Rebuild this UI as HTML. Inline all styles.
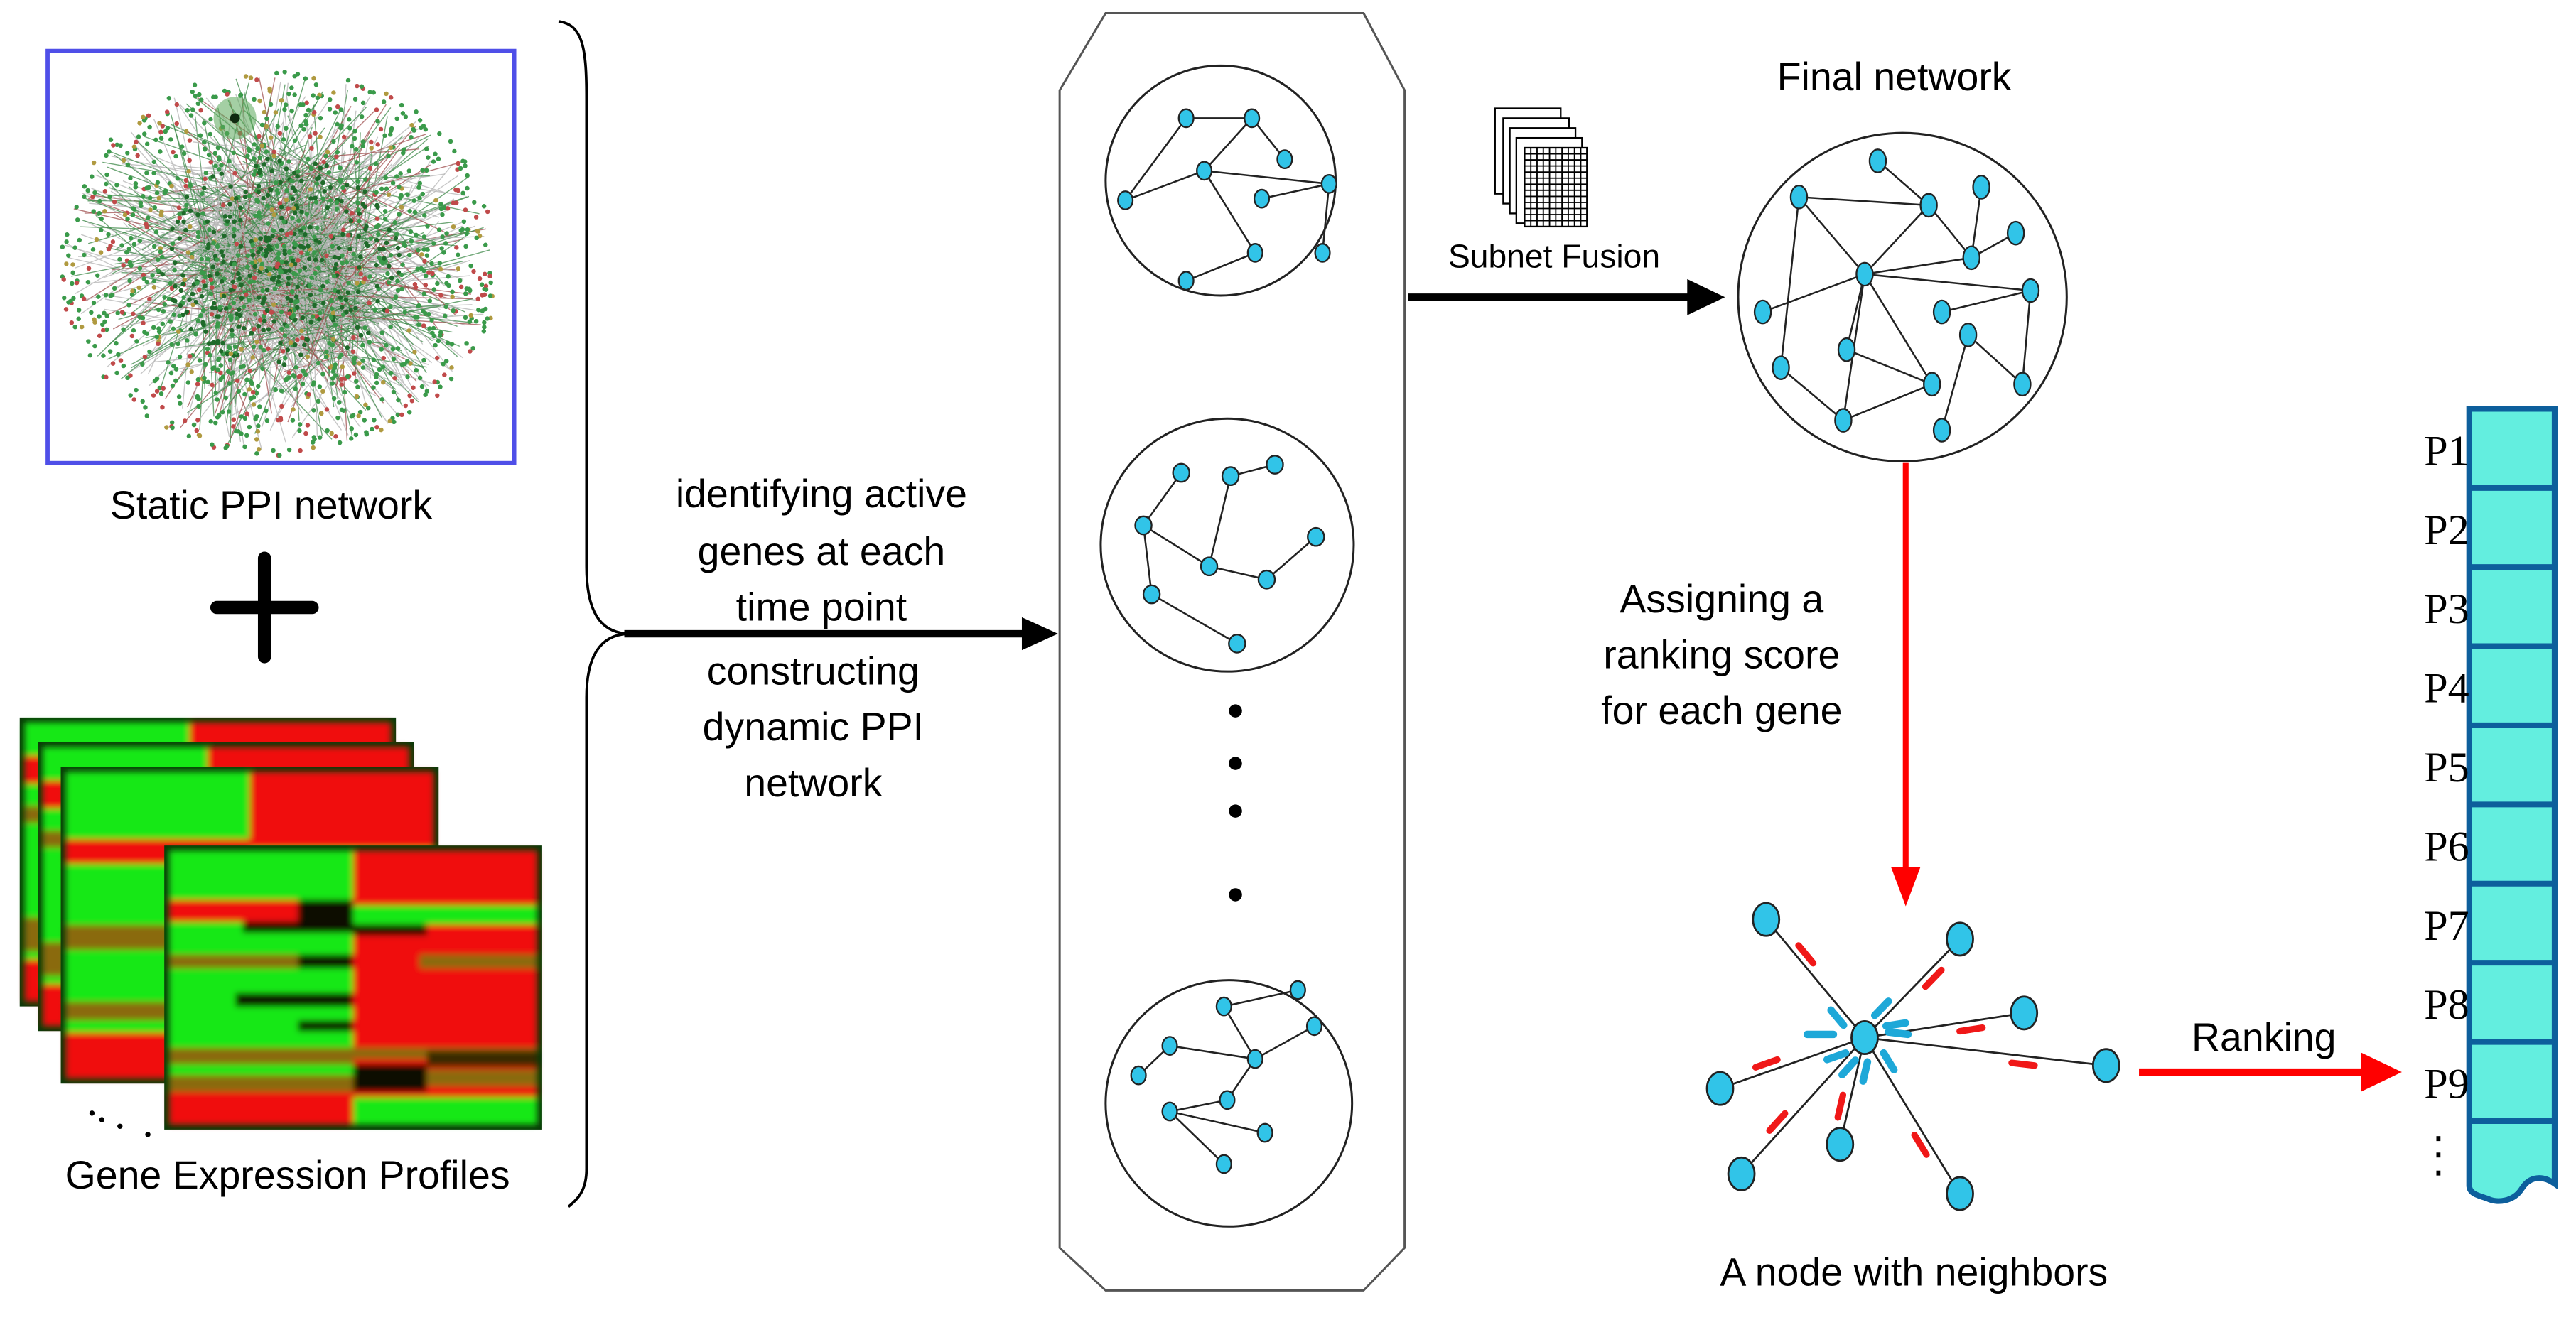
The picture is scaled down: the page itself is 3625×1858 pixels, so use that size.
<!DOCTYPE html>
<html><head><meta charset="utf-8"><style>
html,body{margin:0;padding:0;background:#fff;}
svg{display:block;}
text{font-family:"Liberation Sans",Arial,sans-serif;fill:#000;}
text.serif{font-family:"Liberation Serif","Times New Roman",serif;}
</style></head><body>
<svg id="s" width="3625" height="1858" viewBox="0 0 1568 804" preserveAspectRatio="none" xmlns="http://www.w3.org/2000/svg">
<defs>
<filter id="blur" x="-5%" y="-5%" width="110%" height="110%"><feGaussianBlur stdDeviation="2"/></filter>
<clipPath id="ppiclip"><rect x="30" y="32" width="282" height="249"/></clipPath>
</defs>
<rect width="1568" height="804" fill="#fff"/>

<g id="ppi" clip-path="url(#ppiclip)"></g>
<rect x="29" y="31" width="284" height="251" fill="none" stroke="#4f4fe8" stroke-width="2.5"/>
<text x="165" y="316" font-size="24" text-anchor="middle">Static PPI network</text>
<rect x="128" y="366" width="66" height="8" rx="4" fill="#000"/>
<rect x="157" y="336" width="8" height="68" rx="4" fill="#000"/>

<g id="heat"></g>
<circle cx="56" cy="678" r="1.6" fill="#000"/><circle cx="62" cy="682" r="1.6" fill="#000"/><circle cx="73" cy="686" r="1.6" fill="#000"/><circle cx="90" cy="691" r="1.6" fill="#000"/>
<text x="175" y="724" font-size="24" text-anchor="middle">Gene Expression Profiles</text>

<path d="M340,13 C355,15 357,30 357,60 L357,345 C357,372 365,385 382,386 C365,387 357,400 357,425 L357,712 C357,725 352,730 346,735" fill="none" stroke="#000" stroke-width="1.6"/>

<g font-size="24" text-anchor="middle">
<text x="500" y="309">identifying active</text>
<text x="500" y="344">genes at each</text>
<text x="500" y="378">time point</text>
<text x="495" y="417">constructing</text>
<text x="495" y="451">dynamic PPI</text>
<text x="495" y="485">network</text>
</g>
<line x1="380" y1="386" x2="625" y2="386" stroke="#000" stroke-width="4.5"/>
<path d="M622,376 L644,386 L622,396 z" fill="#000"/>

<path d="M673,8 L830,8 L855,55 L855,760 L830,786 L673,786 L645,760 L645,55 z" fill="#fff" stroke="#555" stroke-width="1.3"/>
<g id="nets"></g>
<circle cx="752" cy="433" r="4" fill="#000"/><circle cx="752" cy="465" r="4" fill="#000"/><circle cx="752" cy="494" r="4" fill="#000"/><circle cx="752" cy="545" r="4" fill="#000"/>

<g stroke="#000" stroke-width="1" fill="#fff">
<rect x="910" y="66" width="40" height="52"/>
<rect x="915" y="72" width="40" height="52"/>
<rect x="919" y="78" width="40" height="52"/>
<rect x="923" y="84" width="40" height="52"/>
</g>
<g id="grid"></g>
<text x="946" y="163" font-size="20" text-anchor="middle">Subnet Fusion</text>
<line x1="857" y1="181" x2="1030" y2="181" stroke="#000" stroke-width="4.5"/>
<path d="M1027,170 L1050,181 L1027,192 z" fill="#000"/>

<text x="1153" y="55" font-size="24" text-anchor="middle">Final network</text>

<line x1="1160" y1="282" x2="1160" y2="532" stroke="#f00" stroke-width="3.5"/>
<path d="M1151,528 L1160,552 L1169,528 z" fill="#f00"/>
<g font-size="24" text-anchor="middle">
<text x="1048" y="373">Assigning a</text>
<text x="1048" y="407">ranking score</text>
<text x="1048" y="441">for each gene</text>
</g>
<text x="1165" y="783" font-size="24" text-anchor="middle">A node with neighbors</text>

<line x1="1302" y1="653" x2="1440" y2="653" stroke="#f00" stroke-width="4.5"/>
<path d="M1437,641 L1462,653 L1437,665 z" fill="#f00"/>
<text x="1378" y="640" font-size="24" text-anchor="middle">Ranking</text>

<path d="M1503,249 L1555,249 L1555,721 C1548,716 1540,716 1535,724 C1530,732 1520,733 1514,730 C1508,728 1503,727 1503,722 z" fill="#63eedf" stroke="#0d5f9c" stroke-width="3.5"/>
<g id="col"></g>
<g font-size="26" text-anchor="end" id="plab"></g>
<g fill="#000"><rect x="1483" y="692" width="2.5" height="3"/><rect x="1483" y="702" width="2.5" height="3"/><rect x="1483" y="713" width="2.5" height="3"/></g>
</svg>
<script>
var NS="http://www.w3.org/2000/svg";
function el(p,t,a){var e=document.createElementNS(NS,t);for(var k in a)e.setAttribute(k,a[k]);p.appendChild(e);return e;}
var seed=12345;function rnd(){seed=(seed*1103515245+12345)%2147483648;return seed/2147483648;}

var ppi=document.getElementById('ppi');
var cx=170,cy=160;
var hubs=[[140,130],[200,140],[170,170],[150,195],[215,185],[130,170],[185,110],[160,150],[195,200]];
for(var i=0;i<900;i++){
 var h=hubs[Math.floor(rnd()*hubs.length)];
 var ang=rnd()*Math.PI*2, r=Math.pow(rnd(),0.6)*125;
 var x=cx+Math.cos(ang)*r*1.05, y=cy+Math.sin(ang)*r*0.92;
 var lc=rnd()<0.55?'#b5b5b5':(rnd()<0.7?'#3f8a4a':'#a05050');
 el(ppi,'line',{x1:h[0]+(rnd()-.5)*40,y1:h[1]+(rnd()-.5)*40,x2:x,y2:y,stroke:lc,'stroke-width':0.6,opacity:0.75});
}
for(var i=0;i<1500;i++){
 var ang=rnd()*Math.PI*2, r=Math.pow(rnd(),0.65)*128;
 var x=cx+Math.cos(ang)*r*1.05, y=cy+Math.sin(ang)*r*0.92;
 var c=rnd()<0.7?'#3a9a4a':(rnd()<0.6?'#c04a4a':'#b09a40');
 if(r<70&&rnd()<0.5)c='#1f6a2a';
 el(ppi,'circle',{cx:x,cy:y,r:1.4,fill:c});
}
el(ppi,'circle',{cx:143,cy:72,r:13,fill:'#5aa85a',opacity:0.55});
el(ppi,'circle',{cx:143,cy:72,r:3,fill:'#102a10'});
el(ppi,'circle',{cx:272,cy:255,r:0,fill:'none'});

var heat=document.getElementById('heat');
var G='#18e818',R='#f01010',DG='#0a3a08',OL='#8a6a10',DK='#101000';
function hm(x,y,w,h,rows){
 var g=el(heat,'g',{});
 el(g,'rect',{x:x,y:y,width:w,height:h,fill:DG});
 var gb=el(g,'g',{filter:'url(#blur)'});
 rows.forEach(function(r){el(gb,'rect',{x:x+3+r[0]*(w-6),y:y+3+r[1]*(h-6),width:r[2]*(w-6),height:r[3]*(h-6),fill:r[4]});});
}
var rowsBack=[[0,0,1,1,G],[0.45,0,0.55,0.3,R],[0,0.12,0.08,0.1,R],[0,0.3,0.1,0.06,OL],[0,0.7,0.3,0.12,OL],[0,0.85,1,0.15,R]];
hm(12,437,229,176,rowsBack);
hm(23,452,229,176,rowsBack);
hm(37,467,230,193,[[0,0,0.5,1,G],[0.5,0,0.5,0.25,R],[0.5,0.25,0.5,0.1,G],[0,0.22,0.5,0.08,R],[0,0.5,0.5,0.08,OL],[0,0.75,0.5,0.06,OL],[0,0.85,0.5,0.15,R],[0.5,0.35,0.5,0.65,R]]);
hm(100,515,230,173,[
 [0,0,0.5,1,G],[0.5,0,0.5,1,R],
 [0,0.18,0.35,0.08,R],[0.35,0.18,0.15,0.08,DK],[0.5,0.2,0.5,0.07,G],
 [0.2,0.26,0.3,0.04,DK],[0.5,0.27,0.2,0.04,DK],
 [0,0.38,0.35,0.05,OL],[0.35,0.38,0.15,0.05,DK],[0.68,0.38,0.32,0.05,OL],
 [0.18,0.52,0.32,0.05,DK],[0.35,0.62,0.15,0.04,DK],
 [0,0.72,0.5,0.06,OL],[0.5,0.72,0.5,0.04,OL],[0.5,0.78,0.2,0.1,DK],[0.7,0.73,0.3,0.06,'#3a2a00'],
 [0,0.82,0.5,0.06,OL],[0.7,0.8,0.3,0.06,OL],
 [0,0.88,0.5,0.12,R],[0.5,0.9,0.5,0.1,G]
]);

var nets=document.getElementById('nets');
var NODE='#31c4e8';
function net(circ,nodes,edges,rx,ry,sw){
 if(circ)el(nets,'circle',{cx:circ[0],cy:circ[1],r:circ[2],fill:'#fff',stroke:'#222','stroke-width':1.3});
 edges.forEach(function(e){var a=nodes[e[0]],b=nodes[e[1]];el(nets,'line',{x1:a[0],y1:a[1],x2:b[0],y2:b[1],stroke:'#222','stroke-width':sw||1.1});});
 nodes.forEach(function(n){el(nets,'ellipse',{cx:n[0],cy:n[1],rx:rx,ry:ry,fill:NODE,stroke:'#222','stroke-width':1});});
}
net([743,110,70],[[722,72],[762,72],[782,97],[733,104],[809,112],[768,121],[685,122],[764,154],[805,154],[722,171]],
 [[0,1],[0,6],[1,3],[1,2],[3,6],[3,4],[4,5],[4,8],[3,7],[7,9]],4.5,5.5);
net([747,332,77],[[719,288],[749,290],[776,283],[696,320],[801,327],[736,345],[771,353],[701,362],[753,392]],
 [[0,3],[1,2],[1,5],[3,5],[3,7],[5,6],[6,4],[7,8]],5,5.5);
net([748,672,75],[[790,603],[745,613],[800,625],[712,637],[764,645],[693,655],[747,670],[712,677],[770,690],[745,709]],
 [[0,1],[1,4],[3,4],[4,2],[3,5],[4,6],[6,7],[7,8],[7,9]],4.5,5.5);
net([1158,181,100],[[1143,98],[1095,120],[1174,125],[1206,114],[1227,142],[1200,157],[1135,167],[1236,177],[1073,190],[1182,190],[1198,204],[1124,213],[1084,224],[1176,234],[1231,234],[1122,256],[1182,262]],
 [[0,2],[1,2],[1,6],[1,12],[2,6],[2,5],[3,5],[4,5],[5,6],[6,7],[6,8],[6,11],[6,13],[6,15],[7,9],[7,14],[10,14],[10,16],[11,13],[12,15],[13,15]],5,7);

var c=[1135,632];
var nb=[[1047,663],[1075,560],[1193,572],[1232,617],[1282,649],[1060,715],[1120,697],[1193,727]];
nb.forEach(function(n){el(nets,'line',{x1:c[0],y1:c[1],x2:n[0],y2:n[1],stroke:'#222','stroke-width':1.2});});
nb.forEach(function(n){
 var dx=n[0]-c[0],dy=n[1]-c[1],L=Math.sqrt(dx*dx+dy*dy),ux=dx/L,uy=dy/L,px=-uy,py=ux;
 var t=L*0.66;
 el(nets,'line',{x1:c[0]+ux*(t-7)+px*5,y1:c[1]+uy*(t-7)+py*5,x2:c[0]+ux*(t+7)+px*5,y2:c[1]+uy*(t+7)+py*5,stroke:'#f01818','stroke-width':4,'stroke-linecap':'round'});
 el(nets,'line',{x1:c[0]+ux*14-px*5,y1:c[1]+uy*14-py*5,x2:c[0]+ux*26-px*5,y2:c[1]+uy*26-py*5,stroke:'#1ea8d8','stroke-width':4.5,'stroke-linecap':'round'});
});
el(nets,'line',{x1:1100,y1:630,x2:1116,y2:630,stroke:'#1ea8d8','stroke-width':4.5,'stroke-linecap':'round'});
nb.forEach(function(n){el(nets,'ellipse',{cx:n[0],cy:n[1],rx:8,ry:10,fill:NODE,stroke:'#222','stroke-width':1.2});});
el(nets,'ellipse',{cx:c[0],cy:c[1],rx:8,ry:10,fill:NODE,stroke:'#222','stroke-width':1.2});

var gr=document.getElementById('grid');
el(gr,'rect',{x:928,y:90,width:38,height:48,fill:'#fff',stroke:'#000','stroke-width':1});
for(var i=1;i<10;i++){el(gr,'line',{x1:928+i*3.8,y1:90,x2:928+i*3.8,y2:138,stroke:'#000','stroke-width':0.8});}
for(var j=1;j<13;j++){el(gr,'line',{x1:928,y1:90+j*3.7,x2:966,y2:90+j*3.7,stroke:'#000','stroke-width':0.8});}

var col=document.getElementById('col'),pl=document.getElementById('plab');
for(var k=1;k<=9;k++){var y=249+k*48.2;el(col,'line',{x1:1503,y1:y,x2:1555,y2:y,stroke:'#0d5f9c','stroke-width':3.5});}
for(var k=1;k<=9;k++){var t=el(pl,'text',{x:1503,y:249+k*48.2-14,'class':'serif'});t.textContent='P'+k;}
</script>
</body></html>
